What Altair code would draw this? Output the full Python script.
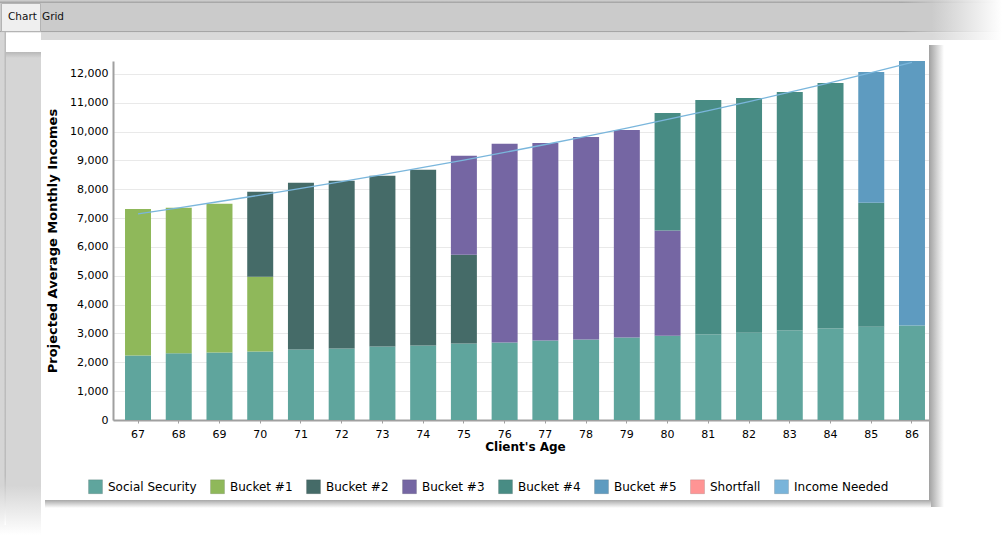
import altair as alt
import pandas as pd

# ---------------- data ----------------
ages = [67, 68, 69, 70, 71, 72, 73, 74, 75, 76, 77, 78, 79, 80, 81, 82, 83, 84, 85, 86]
social_security = [2234, 2314, 2337, 2372, 2442, 2476, 2545, 2580, 2649, 2684,
                   2753, 2788, 2857, 2926, 2961, 3030, 3100, 3169, 3238, 3273]
bucket1 = [5080, 5045, 5161, 2598, 0, 0, 0, 0, 0, 0,
           0, 0, 0, 0, 0, 0, 0, 0, 0, 0]
bucket2 = [0, 0, 0, 2943, 5783, 5818, 5922, 6095, 3083, 0,
           0, 0, 0, 0, 0, 0, 0, 0, 0, 0]
bucket3 = [0, 0, 0, 0, 0, 0, 0, 0, 3428, 6892,
           6857, 7030, 7204, 3648, 0, 0, 0, 0, 0, 0]
bucket4 = [0, 0, 0, 0, 0, 0, 0, 0, 0, 0,
           0, 0, 0, 4076, 8139, 8139, 8277, 8519, 4294, 0]
bucket5 = [0, 0, 0, 0, 0, 0, 0, 0, 0, 0,
           0, 0, 0, 0, 0, 0, 0, 0, 4537, 9177]
shortfall = [0, 0, 0, 0, 0, 0, 0, 0, 0, 0,
             0, 0, 0, 0, 0, 0, 0, 0, 0, 0]
income_needed = [7150, 7360, 7577, 7800, 8029, 8265, 8508, 8758, 9016, 9281,
                 9554, 9835, 10124, 10422, 10728, 11044, 11369, 11703, 12047, 12401]

series_names = ["Social Security", "Bucket #1", "Bucket #2", "Bucket #3",
                "Bucket #4", "Bucket #5", "Shortfall", "Income Needed"]
series_colors = ["#5fa59d", "#8fb85a", "#456b68", "#7566a3",
                 "#488c84", "#5e9bc0", "#ff9494", "#79b4da"]
y_ticks = [0, 1000, 2000, 3000, 4000, 5000, 6000, 7000, 8000, 9000, 10000, 11000, 12000]
y_max = 12450

# ---------------- tables ----------------
stack_series = [social_security, bucket1, bucket2, bucket3, bucket4, bucket5, shortfall]
rows = []
for order, (name, vals) in enumerate(zip(series_names[:7], stack_series)):
    for a, v in zip(ages, vals):
        if v > 0:
            rows.append({"age": a, "series": name, "value": v, "order": order})
bars_df = pd.DataFrame(rows)
line_df = pd.DataFrame({"age": ages, "value": income_needed})

# ---------------- layout ----------------
PL, PT = 113, 61          # plot origin in the page
W, H = 824, 359

FONT = "DejaVu Sans"

one = pd.DataFrame({"k": [0]})


def rect(x1, y1, x2, y2, fill, **kw):
    return alt.Chart(one).mark_rect(fill=fill, **kw).encode(
        x=alt.value(x1 - PL), x2=alt.value(x2 - PL),
        y=alt.value(y1 - PT), y2=alt.value(y2 - PT))


def hgrad(c1, c2, p=0.0):
    return alt.LinearGradient(gradient="linear", x1=0, x2=1, y1=0, y2=0,
                              stops=[alt.GradientStop(color=c1, offset=0),
                                     alt.GradientStop(color=c1, offset=p),
                                     alt.GradientStop(color=c2, offset=1)])


def vgrad(c1, c2, p=0.0):
    return alt.LinearGradient(gradient="linear", x1=0, x2=0, y1=0, y2=1,
                              stops=[alt.GradientStop(color=c1, offset=0),
                                     alt.GradientStop(color=c1, offset=p),
                                     alt.GradientStop(color=c2, offset=1)])


def label(txt, x, y):
    return alt.Chart(one).mark_text(text=txt, align="left", baseline="middle",
                                    font=FONT, fontSize=10.5, color="#111").encode(
        x=alt.value(x - PL), y=alt.value(y - PT))


deco = [
    rect(0, 0, 1002, 31, hgrad("#cbcbcb", "#ffffff", 0.93)),
    rect(0, 1.5, 1002, 3, hgrad("#a8a8a8", "#ffffff", 0.9)),
    rect(0, 31, 1002, 32.5, hgrad("#a6a6a6", "#ffffff", 0.9)),
    rect(0, 32.5, 1002, 40, hgrad("#d9d9d9", "#ffffff", 0.93)),
    rect(0, 40, 41, 535, vgrad("#d5d5d5", "#ffffff", 0.9)),
    rect(4.5, 32, 6, 525, vgrad("#bcbcbc", "#ffffff", 0.9)),
    rect(1.5, 3.5, 40.5, 31.5, "#efefef", stroke="#b4b4b4", strokeWidth=1),
    rect(6, 32.5, 41, 52, "#ffffff"),
    rect(6, 52, 41, 58, vgrad("#b8b8b8", "#d5d5d5")),
    rect(929, 45, 944, 507, hgrad("#a0a0a0", "#ffffff")),
    rect(45, 500, 931, 508, vgrad("#a8a8a8", "#ffffff")),
    label("Chart", 8, 17),
    label("Grid", 42, 17),
]

y_axis = alt.Axis(title="Projected Average Monthly Incomes", values=y_ticks,
                  format=",d", grid=True, ticks=False, labelPadding=5,
                  labelOverlap=False, titlePadding=10, titleFontSize=13)
x_axis = alt.Axis(title="Client's Age", labelAngle=0, tickSize=3,
                  labelPadding=5, titlePadding=2, grid=False)
x_scale = alt.Scale(paddingInner=0.362, paddingOuter=0.295)
y_scale = alt.Scale(domain=[0, y_max], nice=False, zero=True)

bars = alt.Chart(bars_df).mark_bar().encode(
    x=alt.X("age:O", sort=ages, scale=x_scale, axis=x_axis),
    y=alt.Y("value:Q", stack="zero", scale=y_scale, axis=y_axis),
    color=alt.Color("series:N",
                    scale=alt.Scale(domain=series_names, range=series_colors),
                    legend=alt.Legend(title=None, orient="none", legendX=-25, legendY=418,
                                      direction="horizontal", columns=8,
                                      symbolType="square", symbolSize=196,
                                      symbolStrokeWidth=1,
                                      symbolStrokeColor="rgba(0,0,0,0.12)",
                                      labelFont=FONT, labelFontSize=12,
                                      labelColor="#000", labelOffset=5,
                                      columnPadding=11, padding=0)),
    order=alt.Order("order:Q", sort="ascending"),
)

line = alt.Chart(line_df).mark_line(color="#7ab6dc", strokeWidth=1.3).encode(
    x=alt.X("age:O", sort=ages, scale=x_scale, axis=x_axis),
    y=alt.Y("value:Q", scale=y_scale, axis=y_axis),
)

chart = alt.layer(*deco, bars, line).properties(
    width=W, height=H,
    padding={"left": PL, "top": PT, "right": 1002 - PL - W, "bottom": 544 - PT - H},
    autosize=alt.AutoSizeParams(type="none"),
    background="#ffffff",
).configure_view(strokeWidth=0).configure_axis(
    labelFont=FONT, labelFontSize=11, labelColor="#000",
    titleFont=FONT, titleFontSize=12, titleFontWeight="bold", titleColor="#000",
    domainColor="#a0a0a0", domainWidth=2, tickColor="#a0a0a0",
    gridColor="#d2d2d2", gridDash=[1, 1], gridWidth=1,
)

chart.save("out.html", embed_options={"renderer": "svg", "actions": False})
